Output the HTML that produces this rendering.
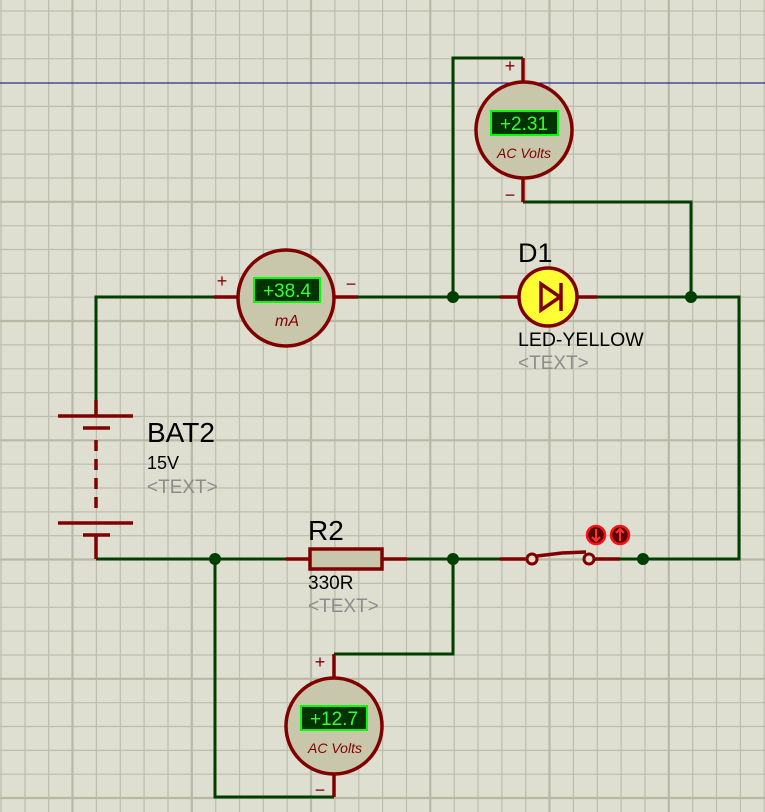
<!DOCTYPE html>
<html><head><meta charset="utf-8"><style>
html,body{margin:0;padding:0;background:#dfdfd1;}
svg{display:block;font-family:"Liberation Sans",sans-serif;}
</style></head><body>
<svg width="765" height="812" viewBox="0 0 765 812" xmlns="http://www.w3.org/2000/svg">
<rect width="765" height="812" fill="#dfdfd1"/>
<g stroke="#bdbdae" stroke-width="1.2">
<line x1="1" y1="0" x2="1" y2="812"/><line x1="25" y1="0" x2="25" y2="812"/><line x1="48.7" y1="0" x2="48.7" y2="812"/>
<line x1="96.4" y1="0" x2="96.4" y2="812"/><line x1="120.3" y1="0" x2="120.3" y2="812"/><line x1="144.1" y1="0" x2="144.1" y2="812"/><line x1="168" y1="0" x2="168" y2="812"/>
<line x1="215.7" y1="0" x2="215.7" y2="812"/><line x1="239.5" y1="0" x2="239.5" y2="812"/><line x1="263.4" y1="0" x2="263.4" y2="812"/><line x1="287.2" y1="0" x2="287.2" y2="812"/>
<line x1="334.9" y1="0" x2="334.9" y2="812"/><line x1="358.8" y1="0" x2="358.8" y2="812"/><line x1="382.6" y1="0" x2="382.6" y2="812"/><line x1="406.5" y1="0" x2="406.5" y2="812"/>
<line x1="454.2" y1="0" x2="454.2" y2="812"/><line x1="478" y1="0" x2="478" y2="812"/><line x1="501.9" y1="0" x2="501.9" y2="812"/><line x1="525.7" y1="0" x2="525.7" y2="812"/>
<line x1="573.4" y1="0" x2="573.4" y2="812"/><line x1="597.3" y1="0" x2="597.3" y2="812"/><line x1="621.1" y1="0" x2="621.1" y2="812"/><line x1="645" y1="0" x2="645" y2="812"/>
<line x1="692.7" y1="0" x2="692.7" y2="812"/><line x1="716.5" y1="0" x2="716.5" y2="812"/><line x1="740.4" y1="0" x2="740.4" y2="812"/><line x1="764.2" y1="0" x2="764.2" y2="812"/>
<line y1="11" x1="0" y2="11" x2="765"/><line y1="34.9" x1="0" y2="34.9" x2="765"/><line y1="58.7" x1="0" y2="58.7" x2="765"/>
<line y1="106.4" x1="0" y2="106.4" x2="765"/><line y1="130.3" x1="0" y2="130.3" x2="765"/><line y1="154.1" x1="0" y2="154.1" x2="765"/><line y1="178" x1="0" y2="178" x2="765"/>
<line y1="225.7" x1="0" y2="225.7" x2="765"/><line y1="249.5" x1="0" y2="249.5" x2="765"/><line y1="273.4" x1="0" y2="273.4" x2="765"/><line y1="297.2" x1="0" y2="297.2" x2="765"/>
<line y1="344.9" x1="0" y2="344.9" x2="765"/><line y1="368.8" x1="0" y2="368.8" x2="765"/><line y1="392.6" x1="0" y2="392.6" x2="765"/><line y1="416.5" x1="0" y2="416.5" x2="765"/>
<line y1="464.2" x1="0" y2="464.2" x2="765"/><line y1="488" x1="0" y2="488" x2="765"/><line y1="511.9" x1="0" y2="511.9" x2="765"/><line y1="535.7" x1="0" y2="535.7" x2="765"/>
<line y1="583.4" x1="0" y2="583.4" x2="765"/><line y1="607.3" x1="0" y2="607.3" x2="765"/><line y1="631.1" x1="0" y2="631.1" x2="765"/><line y1="655" x1="0" y2="655" x2="765"/>
<line y1="702.7" x1="0" y2="702.7" x2="765"/><line y1="726.5" x1="0" y2="726.5" x2="765"/><line y1="750.4" x1="0" y2="750.4" x2="765"/><line y1="774.2" x1="0" y2="774.2" x2="765"/>
</g>
<g stroke="#b8b8a7" stroke-width="2.2">
<line x1="72.5" y1="0" x2="72.5" y2="812"/><line x1="191.8" y1="0" x2="191.8" y2="812"/><line x1="311" y1="0" x2="311" y2="812"/><line x1="430.3" y1="0" x2="430.3" y2="812"/><line x1="549.5" y1="0" x2="549.5" y2="812"/><line x1="668.8" y1="0" x2="668.8" y2="812"/>
<line y1="201.8" x1="0" y2="201.8" x2="765"/><line y1="321" x1="0" y2="321" x2="765"/><line y1="440.3" x1="0" y2="440.3" x2="765"/><line y1="559.5" x1="0" y2="559.5" x2="765"/><line y1="678.8" x1="0" y2="678.8" x2="765"/><line y1="798" x1="0" y2="798" x2="765"/>
</g>
<line x1="0" y1="83" x2="765" y2="83" stroke="#000080" stroke-width="1"/>

<!-- green wires -->
<g fill="none" stroke="#003f00" stroke-width="3">
<polyline points="214,297 96,297 96,405"/>
<polyline points="358,297 500,297"/>
<polyline points="597,297 739,297 739,559 620,559"/>
<polyline points="453,297 453,58 523,58"/>
<polyline points="523,202 691,202 691,297"/>
<polyline points="96,559 286,559"/>
<polyline points="407,559 500,559"/>
<polyline points="334,654 453,654 453,559"/>
<polyline points="334,797 215,797 215,559"/>
</g>
<g fill="#003f00">
<circle cx="453" cy="297" r="6"/><circle cx="691" cy="297" r="6"/>
<circle cx="215" cy="559" r="6"/><circle cx="453" cy="559" r="6"/><circle cx="643" cy="559" r="6"/>
</g>

<!-- battery -->
<g stroke="#800000" stroke-width="3.5" fill="none">
<line x1="96" y1="400" x2="96" y2="416"/>
<line x1="58" y1="416" x2="133" y2="416"/>
<line x1="83" y1="428" x2="110" y2="428"/>
<line x1="96" y1="440" x2="96" y2="512" stroke-dasharray="11,8"/>
<line x1="58" y1="523" x2="133" y2="523"/>
<line x1="83" y1="535" x2="110" y2="535"/>
<line x1="96" y1="535" x2="96" y2="559"/>
</g>
<text x="147" y="442" font-size="28" fill="#000">BAT2</text>
<text x="147" y="469" font-size="18" fill="#000">15V</text>
<text x="147" y="493" font-size="19" fill="#8c8c8c">&lt;TEXT&gt;</text>

<!-- ammeter -->
<g stroke="#800000" stroke-width="3.5">
<line x1="214" y1="297" x2="237" y2="297"/><line x1="335" y1="297" x2="358" y2="297"/>
<circle cx="286" cy="298" r="48" fill="#c8c7ab"/>
</g>
<rect x="254" y="278" width="66" height="24" fill="#003300" stroke="#00ff00" stroke-width="2"/>
<text x="287" y="297" font-size="19" fill="#33ff33" text-anchor="middle">+38.4</text>
<text x="287" y="326" font-size="16" font-style="italic" fill="#800000" text-anchor="middle">mA</text>
<text x="222" y="287" font-size="18" fill="#800000" text-anchor="middle">+</text>
<text x="351" y="290" font-size="18" fill="#800000" text-anchor="middle">−</text>

<!-- top voltmeter -->
<g stroke="#800000" stroke-width="3.5">
<line x1="523" y1="58" x2="523" y2="82"/><line x1="523" y1="178" x2="523" y2="202"/>
<circle cx="524" cy="130" r="48" fill="#c8c7ab"/>
</g>
<rect x="491" y="111" width="67" height="24" fill="#003300" stroke="#00ff00" stroke-width="2"/>
<text x="524" y="130" font-size="19" fill="#33ff33" text-anchor="middle">+2.31</text>
<text x="524" y="158" font-size="14" font-style="italic" fill="#800000" text-anchor="middle">AC Volts</text>
<text x="510" y="72" font-size="18" fill="#800000" text-anchor="middle">+</text>
<text x="510" y="201" font-size="18" fill="#800000" text-anchor="middle">−</text>

<!-- LED -->
<line x1="500" y1="297" x2="597" y2="297" stroke="#800000" stroke-width="3.5"/>
<circle cx="548" cy="297" r="29" fill="#ffff33" stroke="#800000" stroke-width="3.5"/>
<polygon points="541,284 541,310 560,297" fill="none" stroke="#800000" stroke-width="3.5"/>
<line x1="561" y1="283" x2="561" y2="311" stroke="#800000" stroke-width="3.5"/>
<text x="518" y="262" font-size="27" fill="#000">D1</text>
<text x="518" y="346" font-size="19.5" fill="#000">LED-YELLOW</text>
<text x="518" y="369" font-size="19" fill="#8c8c8c">&lt;TEXT&gt;</text>

<!-- resistor -->
<line x1="286" y1="559" x2="407" y2="559" stroke="#800000" stroke-width="3.5"/>
<rect x="310" y="549" width="72" height="20" fill="#c8c7ab" stroke="#800000" stroke-width="3.5"/>
<text x="308" y="540" font-size="28" fill="#000">R2</text>
<text x="308" y="589" font-size="19" fill="#000">330R</text>
<text x="308" y="612" font-size="19" fill="#8c8c8c">&lt;TEXT&gt;</text>

<!-- switch -->
<line x1="500" y1="559" x2="527" y2="559" stroke="#800000" stroke-width="3.5"/>
<line x1="594" y1="559" x2="620" y2="559" stroke="#800000" stroke-width="3.5"/>
<polyline points="537,556 562,553 586,552" fill="none" stroke="#800000" stroke-width="3.5"/>
<circle cx="532" cy="559" r="5" fill="#dfdfd1" stroke="#800000" stroke-width="3"/>
<circle cx="589" cy="559" r="5" fill="#dfdfd1" stroke="#800000" stroke-width="3"/>
<circle cx="596" cy="535" r="9" fill="#5a0000" stroke="#ff1010" stroke-width="2.5"/>
<circle cx="620" cy="535" r="9" fill="#5a0000" stroke="#ff1010" stroke-width="2.5"/>
<path d="M596,529 V541 M592,537 L596,541 L600,537" fill="none" stroke="#ff3030" stroke-width="2"/>
<path d="M620,541 V529 M616,533 L620,529 L624,533" fill="none" stroke="#ff3030" stroke-width="2"/>

<!-- bottom voltmeter -->
<g stroke="#800000" stroke-width="3.5">
<line x1="334" y1="654" x2="334" y2="678"/><line x1="334" y1="774" x2="334" y2="797"/>
<circle cx="334" cy="726" r="48" fill="#c8c7ab"/>
</g>
<rect x="301" y="706" width="66" height="24" fill="#003300" stroke="#00ff00" stroke-width="2"/>
<text x="334" y="725" font-size="19" fill="#33ff33" text-anchor="middle">+12.7</text>
<text x="335" y="753" font-size="14" font-style="italic" fill="#800000" text-anchor="middle">AC Volts</text>
<text x="320" y="668" font-size="18" fill="#800000" text-anchor="middle">+</text>
<text x="320" y="796" font-size="18" fill="#800000" text-anchor="middle">−</text>
</svg>
</body></html>
